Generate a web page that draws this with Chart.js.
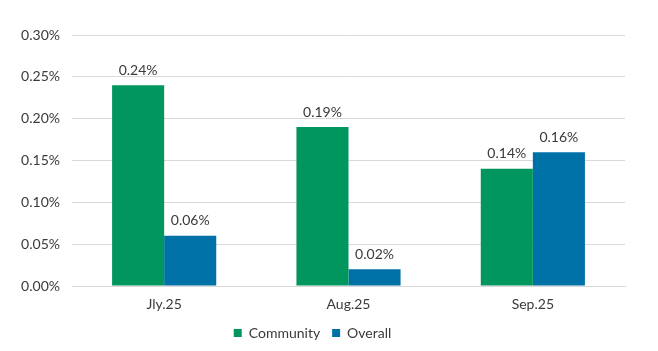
<!DOCTYPE html>
<html><head><meta charset="utf-8">
<script src="https://cdn.jsdelivr.net/npm/chart.js@4/dist/chart.umd.min.js"></script>
<style>html,body{margin:0;padding:0;background:#fff}#wrap{width:658px;height:351px}</style>
</head><body><div id="wrap"><canvas id="c"></canvas></div>
<script>
const categories = ["Jly.25", "Aug.25", "Sep.25"];
const communityValues = [0.24, 0.19, 0.14];
const overallValues = [0.06, 0.02, 0.16];
const seriesNames = ["Community", "Overall"];

const FONT = "Lato, 'Open Sans', sans-serif";
const TXT = "#3a3a3a";

const labelPlugin = {
  id: "barLabels",
  afterDatasetsDraw(chart) {
    const ctx = chart.ctx;
    ctx.save();
    ctx.font = "14px " + FONT;
    ctx.fillStyle = TXT;
    ctx.textAlign = "center";
    ctx.textBaseline = "bottom";
    chart.data.datasets.forEach((ds, i) => {
      chart.getDatasetMeta(i).data.forEach((bar, j) => {
        ctx.fillText(ds.data[j].toFixed(2) + "%", bar.x, bar.y - 8);
      });
    });
    ctx.restore();
  }
};

new Chart(document.getElementById("c"), {
  type: "bar",
  data: {
    labels: categories,
    datasets: [
      { label: seriesNames[0], data: communityValues, backgroundColor: "#00965E", barPercentage: 1, categoryPercentage: 0.565 },
      { label: seriesNames[1], data: overallValues, backgroundColor: "#0071A7", barPercentage: 1, categoryPercentage: 0.565 }
    ]
  },
  options: {
    responsive: true,
    maintainAspectRatio: false,
    animation: false,
    layout: { padding: { top: 35, right: 33, left: 0, bottom: 1 } },
    plugins: {
      tooltip: { enabled: false },
      legend: {
        position: "bottom",
        labels: { boxWidth: 8, boxHeight: 8, font: { size: 14, family: FONT }, color: TXT, padding: 12 }
      }
    },
    scales: {
      x: {
        grid: { display: false },
        border: { color: "#d9d9d9" },
        ticks: { font: { size: 14, family: FONT }, color: TXT, padding: 2 },
        afterFit(s) { s.height = 28; }
      },
      y: {
        min: 0, max: 0.30,
        ticks: { stepSize: 0.05, font: { size: 14, family: FONT }, color: TXT, padding: 12,
          callback: v => v.toFixed(2) + "%" },
        grid: { color: "#d9d9d9", drawTicks: false },
        border: { display: false },
        afterFit(s) { s.width = 72; }
      }
    }
  },
  plugins: [labelPlugin]
});
</script></body></html>
